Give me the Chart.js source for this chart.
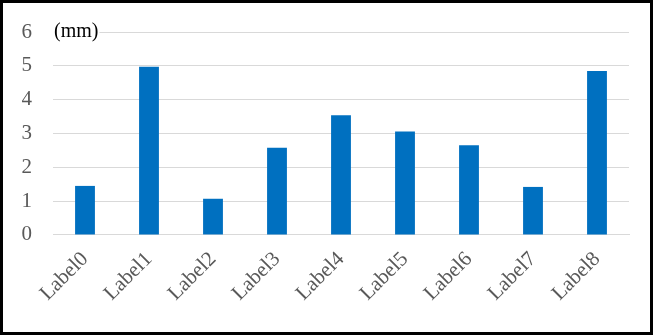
<!DOCTYPE html>
<html>
<head>
<meta charset="utf-8">
<script src="https://cdn.jsdelivr.net/npm/chart.js@4"></script>
<style>
    html, body { margin: 0; padding: 0; background: #fff; }
    #frame {
        width: 653px; height: 335px; box-sizing: border-box;
        border: 3px solid #000; position: relative;
    }
    #chart { display: block; }
</style>
</head>
<body>
<div id="frame"><canvas id="chart" width="647" height="329"></canvas></div>
<script>
// Chart data
const categories = ['Label0', 'Label1', 'Label2', 'Label3', 'Label4', 'Label5', 'Label6', 'Label7', 'Label8'];
const values = [1.45, 4.97, 1.07, 2.58, 3.54, 3.06, 2.65, 1.42, 4.85];
const yTicks = [0, 1, 2, 3, 4, 5, 6];
const unitLabel = '(mm)';

const serif = '"Liberation Serif", "Times New Roman", serif';

// draws the "(mm)" unit label at the top of the y axis
const unitPlugin = {
    id: 'unitLabel',
    afterDraw(chart) {
        const ctx = chart.ctx;
        const y = chart.scales.y.getPixelForValue(yTicks[yTicks.length - 1]);
        ctx.save();
        ctx.font = '20px ' + serif;
        ctx.textBaseline = 'middle';
        ctx.textAlign = 'left';
        // white backing so the grid line doesn't cross the text
        const w = ctx.measureText(unitLabel).width;
        ctx.fillStyle = '#fff';
        ctx.fillRect(chart.chartArea.left, y - 10, w + 2, 20);
        ctx.fillStyle = '#000';
        ctx.fillText(unitLabel, chart.chartArea.left + 1, y);
        ctx.restore();
    }
};

new Chart(document.getElementById('chart').getContext('2d'), {
    type: 'bar',
    data: {
        labels: categories,
        datasets: [{
            data: values,
            backgroundColor: '#0070c0',
            borderWidth: 0,
            categoryPercentage: 1,
            barPercentage: 0.31
        }]
    },
    options: {
        responsive: false,
        animation: false,
        layout: { padding: { top: 29, right: 21, bottom: 22, left: 19 } },
        plugins: {
            legend: { display: false },
            tooltip: { enabled: false }
        },
        scales: {
            x: {
                grid: { display: false },
                border: { color: '#d9d9d9', width: 1 },
                ticks: {
                    color: '#595959',
                    font: { family: serif, size: 21 },
                    minRotation: 45,
                    maxRotation: 45,
                    padding: 4
                },
                // rotated labels may hang past the plot edge, like the original
                afterFit(scale) {
                    scale.paddingLeft = 0;
                    scale.paddingRight = 0;
                }
            },
            y: {
                min: 0,
                max: 6,
                afterBuildTicks(axis) {
                    axis.ticks = yTicks.map(v => ({ value: v }));
                },
                afterFit(scale) {
                    scale.width = 31;
                    scale.paddingTop = 0;
                    scale.paddingBottom = 0;
                },
                grid: { color: '#d9d9d9', drawTicks: false },
                border: { display: false },
                ticks: {
                    color: '#595959',
                    font: { family: serif, size: 21 },
                    padding: 21
                }
            }
        }
    },
    plugins: [unitPlugin]
});
</script>
</body>
</html>
